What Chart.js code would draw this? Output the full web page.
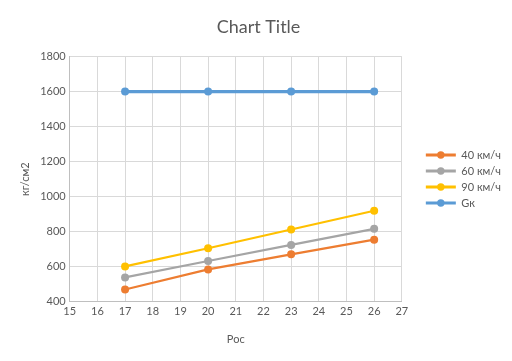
<!DOCTYPE html>
<html><head><meta charset="utf-8">
<script src="https://cdn.jsdelivr.net/npm/chart.js@4/dist/chart.umd.min.js"></script>
<style>html,body{margin:0;padding:0;background:#fff}#wrap{width:512px;height:361px}</style>
</head><body><div id="wrap"><canvas id="c" width="512" height="361"></canvas></div>
<script>
const xValues = [17, 20, 23, 26];
const s40 = [469, 584, 670, 754];
const s60 = [538, 632, 724, 816];
const s90 = [601, 705, 812, 919];
const sGk = [1600, 1600, 1600, 1600];
const seriesNames = ['40 км/ч', '60 км/ч', '90 км/ч', 'Gк'];
const chartTitle = 'Chart Title';
const xTitle = 'Рос';
const yTitle = 'кг/см2';

const colors = ['#ED7D31', '#A5A5A5', '#FFC000', '#5B9BD5'];
const allSeries = [s40, s60, s90, sGk];
const widths = [2.25, 2.25, 2.25, 3.25];
const textColor = '#595959';
const gridColor = '#d9d9d9';
const FONT = 'Lato, "Liberation Sans", sans-serif';

const datasets = allSeries.map((s, i) => ({
  label: seriesNames[i],
  data: xValues.map((x, j) => ({x: x, y: s[j]})),
  borderColor: colors[i],
  backgroundColor: colors[i],
  borderWidth: widths[i],
  pointRadius: 4,
  pointHoverRadius: 4,
  pointBorderWidth: 0,
  showLine: true,
  tension: 0
}));

const legendMarkers = {
  id: 'legendMarkers',
  afterDraw(chart) {
    const lg = chart.legend;
    if (!lg || !lg.legendHitBoxes) return;
    const ctx = chart.ctx;
    lg.legendHitBoxes.forEach((b, i) => {
      const bw = lg.options.labels.boxWidth;
      const cx = b.left + bw / 2;
      const cy = b.top + b.height / 2;
      ctx.save();
      ctx.fillStyle = colors[i];
      ctx.beginPath();
      ctx.arc(cx, cy, 3.7, 0, Math.PI * 2);
      ctx.fill();
      ctx.restore();
    });
  }
};

new Chart(document.getElementById('c'), {
  type: 'scatter',
  data: {datasets},
  plugins: [legendMarkers],
  options: {
    responsive: false,
    animation: false,
    layout: {padding: {left: 15, right: 10, top: 12, bottom: 15}},
    plugins: {
      title: {display: true, text: chartTitle, color: textColor,
        font: {family: FONT, size: 18, weight: 'normal'}, padding: {top: 4, bottom: 19}},
      legend: {
        position: 'right',
        labels: {
          color: textColor,
          font: {family: FONT, size: 11},
          boxWidth: 30, boxHeight: 3, padding: 5,
          generateLabels(chart) {
            return chart.data.datasets.map((d, i) => ({
              text: d.label, fillStyle: colors[i], strokeStyle: colors[i],
              lineWidth: 0, fontColor: textColor, datasetIndex: i, hidden: false
            }));
          }
        }
      },
      tooltip: {enabled: false}
    },
    scales: {
      x: {
        type: 'linear', min: 15, max: 27,
        ticks: {stepSize: 1, color: textColor, font: {family: FONT, size: 11}, padding: 3},
        grid: {color: gridColor, drawTicks: false},
        border: {color: '#bfbfbf'},
        title: {display: true, text: xTitle, color: textColor, font: {family: FONT, size: 11}, padding: {top: 12, bottom: 0}}
      },
      y: {
        min: 400, max: 1800,
        ticks: {stepSize: 200, color: textColor, font: {family: FONT, size: 11}, padding: 4,
          callback: (v) => String(v)},
        grid: {color: gridColor, drawTicks: false},
        border: {color: '#bfbfbf'},
        title: {display: true, text: yTitle, color: textColor, font: {family: FONT, size: 11}, padding: {top: 4, bottom: 4}}
      },
      gap: {
        type: 'linear', position: 'right', display: true,
        grid: {display: false}, border: {display: false}, ticks: {display: false},
        afterFit(s) { s.width = 19; }
      }
    }
  }
});
</script></body></html>
